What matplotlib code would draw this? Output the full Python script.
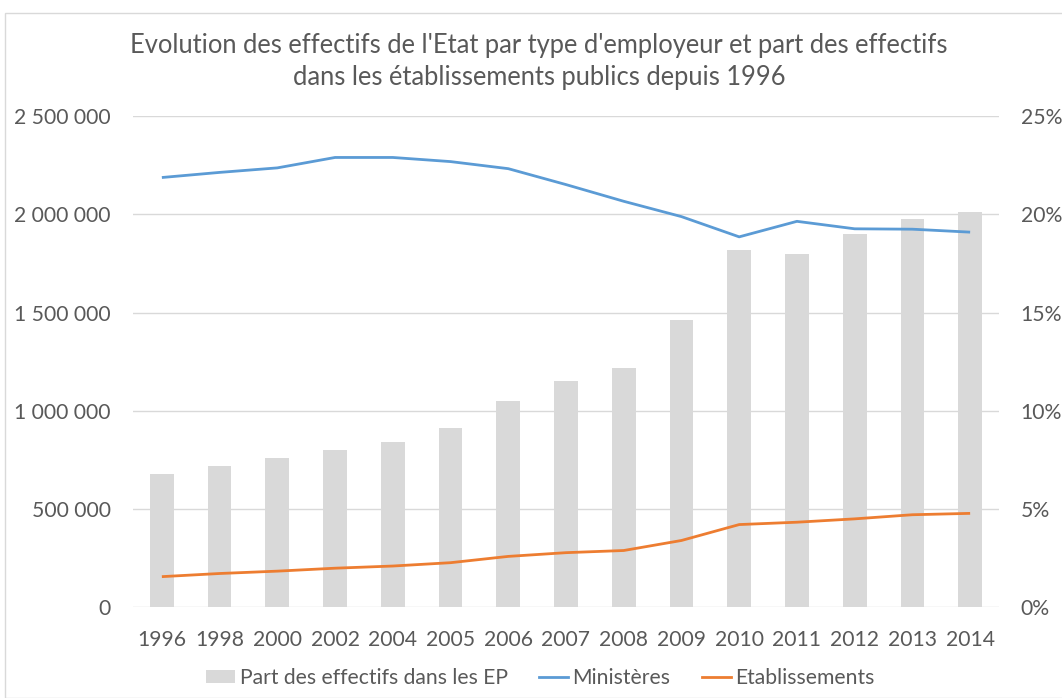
import matplotlib
matplotlib.use("Agg")
import matplotlib.pyplot as plt
from matplotlib.ticker import FuncFormatter, MultipleLocator
from matplotlib.patches import Rectangle, Patch
from matplotlib.lines import Line2D

years = ["1996", "1998", "2000", "2002", "2004", "2005", "2006", "2007",
         "2008", "2009", "2010", "2011", "2012", "2013", "2014"]
part_ep = [6.8, 7.2, 7.6, 8.0, 8.4, 9.1, 10.5, 11.5, 12.2, 14.6, 18.2, 18.0, 19.0, 19.75, 20.1]
ministeres = [2187000, 2213000, 2236000, 2289000, 2289000, 2268000, 2232000, 2151000,
              2066000, 1988000, 1885000, 1964000, 1926000, 1924000, 1909000]
etablissements = [156000, 172000, 184000, 199000, 210000, 227000, 259000, 278000,
                  289000, 340000, 421000, 433000, 450000, 471000, 478000]

TXT = "#595959"
GRID = "#d9d9d9"
BAR = "#d9d9d9"
BLUE = "#5b9bd5"
ORANGE = "#ed7d31"
FONT = "Lato"

plt.rcParams["font.family"] = [FONT, "DejaVu Sans"]

W, H = 1062, 698
fig = plt.figure(figsize=(W / 100, H / 100), dpi=100)
fig.patch.set_facecolor("white")

# chart border
fig.patches.append(Rectangle((4.5 / W, 0), 1.2, 1 - 13 / H, transform=fig.transFigure,
                             fill=False, edgecolor="#d9d9d9", linewidth=1.0))

left, right, bottom, top = 133 / W, 999 / W, (H - 607.3) / H, (H - 116) / H
ax = fig.add_axes([left, bottom, right - left, top - bottom])
ax2 = ax.twinx()

x = list(range(len(years)))

# bars on secondary axis (percent)
ax2.bar(x, part_ep, width=0.41, color=BAR, zorder=1)
ax2.set_ylim(0, 25)
ax2.yaxis.set_major_locator(MultipleLocator(5))
ax2.yaxis.set_major_formatter(FuncFormatter(lambda v, p: f"{v:.0f}%"))

ax.set_zorder(ax2.get_zorder() + 1)
ax.patch.set_visible(False)

ax.plot(x, ministeres, color=BLUE, linewidth=2.0, solid_capstyle="butt", zorder=3)
ax.plot(x, etablissements, color=ORANGE, linewidth=2.0, solid_capstyle="butt", zorder=3)
ax.set_ylim(0, 2500000)
ax.set_xlim(-0.5, len(years) - 0.5)
ax.yaxis.set_major_locator(MultipleLocator(500000))
ax.yaxis.set_major_formatter(FuncFormatter(lambda v, p: f"{v:,.0f}".replace(",", " ")))
ax.set_xticks(x)
ax.set_xticklabels(years)

# gridlines drawn on the bar axis so they sit behind bars
for v in range(0, 26, 5):
    ax2.axhline(v, color=GRID, linewidth=1.0, zorder=0)

for a in (ax, ax2):
    for s in a.spines.values():
        s.set_visible(False)
    a.tick_params(length=0, colors=TXT, labelsize=15.2)
ax.tick_params(axis="y", pad=16)
ax2.tick_params(axis="y", pad=15.5)
ax.tick_params(axis="x", pad=16.5)

fig.text(0.507, (H - 46) / H, "Evolution des effectifs de l'Etat par type d'employeur et part des effectifs",
         ha="center", va="center", fontsize=18.4, color=TXT)
fig.text(0.508, (H - 77) / H, "dans les établissements publics depuis 1996",
         ha="center", va="center", fontsize=18.4, color=TXT)

handles = [Patch(facecolor=BAR, edgecolor="none"),
           Line2D([], [], color=BLUE, linewidth=2.0),
           Line2D([], [], color=ORANGE, linewidth=2.0)]
labels = ["Part des effectifs dans les EP", "Ministères", "Etablissements"]
leg = fig.legend(handles, labels, loc="center", bbox_to_anchor=(0.509, (H - 678) / H), ncol=3,
                 frameon=False, fontsize=15.2, handlelength=1.35, handleheight=0.52,
                 handletextpad=0.22, columnspacing=1.5, borderpad=0.2)
for t in leg.get_texts():
    t.set_color(TXT)

fig.savefig("out.png", dpi=100, facecolor="white")
